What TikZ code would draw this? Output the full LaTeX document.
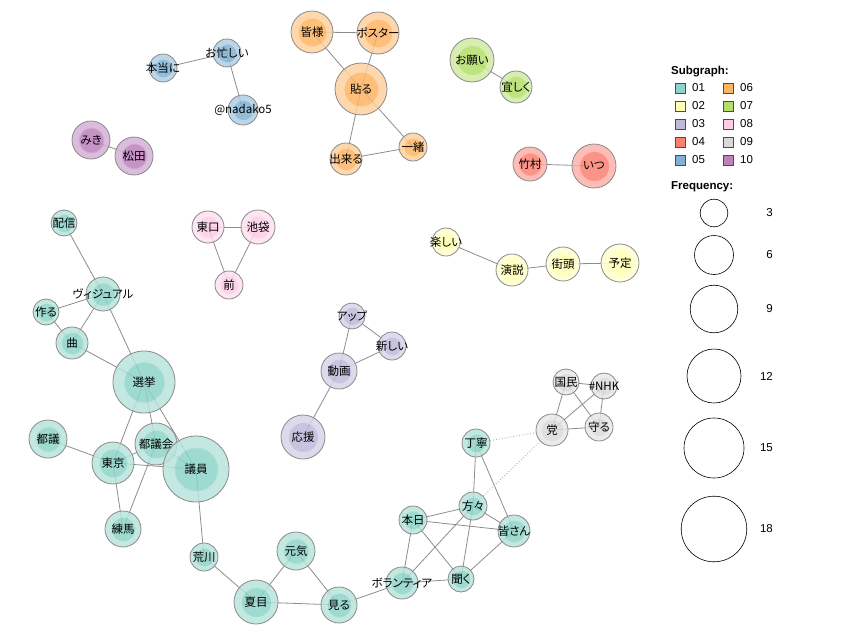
\documentclass[tikz,border=0pt]{standalone}
\usepackage{fontspec}
\setmainfont{Liberation Sans}
\newfontfamily\jpfont[RawFeature=+palt]{Noto Sans CJK JP}
\usetikzlibrary{backgrounds}

\definecolor{sg01}{HTML}{8DD3C7}
\definecolor{sg02}{HTML}{FFFFB3}
\definecolor{sg03}{HTML}{BEBADA}
\definecolor{sg04}{HTML}{FB8072}
\definecolor{sg05}{HTML}{80B1D3}
\definecolor{sg06}{HTML}{FDB462}
\definecolor{sg07}{HTML}{B3DE69}
\definecolor{sg08}{HTML}{FCCDE5}
\definecolor{sg09}{HTML}{D9D9D9}
\definecolor{sg10}{HTML}{BC80BD}
\definecolor{rimgray}{HTML}{8A8A8A}
\definecolor{linkgray}{HTML}{8C8C8C}

% two tone discs: core colour inside 0.65 of the radius
\pgfdeclareradialshading{disc01}{\pgfpoint{0bp}{0bp}}{color(0bp)=(sg01); color(16bp)=(sg01); color(16.5bp)=(sg01!62!white); color(50bp)=(sg01!62!white)}
\pgfdeclareradialshading{disc02}{\pgfpoint{0bp}{0bp}}{color(0bp)=(sg02); color(16bp)=(sg02); color(16.5bp)=(sg02!62!white); color(50bp)=(sg02!62!white)}
\pgfdeclareradialshading{disc03}{\pgfpoint{0bp}{0bp}}{color(0bp)=(sg03); color(16bp)=(sg03); color(16.5bp)=(sg03!62!white); color(50bp)=(sg03!62!white)}
\pgfdeclareradialshading{disc04}{\pgfpoint{0bp}{0bp}}{color(0bp)=(sg04); color(16bp)=(sg04); color(16.5bp)=(sg04!62!white); color(50bp)=(sg04!62!white)}
\pgfdeclareradialshading{disc05}{\pgfpoint{0bp}{0bp}}{color(0bp)=(sg05); color(16bp)=(sg05); color(16.5bp)=(sg05!62!white); color(50bp)=(sg05!62!white)}
\pgfdeclareradialshading{disc06}{\pgfpoint{0bp}{0bp}}{color(0bp)=(sg06); color(16bp)=(sg06); color(16.5bp)=(sg06!62!white); color(50bp)=(sg06!62!white)}
\pgfdeclareradialshading{disc07}{\pgfpoint{0bp}{0bp}}{color(0bp)=(sg07); color(16bp)=(sg07); color(16.5bp)=(sg07!62!white); color(50bp)=(sg07!62!white)}
\pgfdeclareradialshading{disc08}{\pgfpoint{0bp}{0bp}}{color(0bp)=(sg08); color(16bp)=(sg08); color(16.5bp)=(sg08!62!white); color(50bp)=(sg08!62!white)}
\pgfdeclareradialshading{disc09}{\pgfpoint{0bp}{0bp}}{color(0bp)=(sg09); color(16bp)=(sg09); color(16.5bp)=(sg09!62!white); color(50bp)=(sg09!62!white)}
\pgfdeclareradialshading{disc10}{\pgfpoint{0bp}{0bp}}{color(0bp)=(sg10); color(16bp)=(sg10); color(16.5bp)=(sg10!62!white); color(50bp)=(sg10!62!white)}

% label that does not widen its disc
\newcommand{\wlabel}[1]{\makebox[0pt]{#1}}

\tikzset{
  word/.style={circle, draw=rimgray, line width=0.8pt, inner sep=0pt,
    fill opacity=0.85, text opacity=1, font=\jpfont\fontsize{11.5}{11.5}\selectfont},
  sg/.style={shading=disc#1},
  rad/.style={minimum size={2*#1pt}},
  link/.style={draw=linkgray, line width=0.8pt},
  weak/.style={draw=black!30, dotted, line width=0.9pt},
  swatch/.style={draw=black!70, line width=0.6pt, minimum size=10pt, inner sep=0pt},
  freq/.style={circle, draw=black, line width=0.6pt, inner sep=0pt, minimum size={2*#1pt}},
  legtext/.style={font=\fontsize{11.5}{11.5}\selectfont, inner sep=0pt},
  leghead/.style={font=\bfseries\fontsize{11.5}{11.5}\selectfont, inner sep=0pt, anchor=west}
}

\begin{document}
\begin{tikzpicture}[x=1pt, y=-1pt]
        \useasboundingbox (0,0) rectangle (853,640);
        % Subgraph 01
        \node[word, sg=01, rad=13] (haishin) at (64,223) {配信};
        \node[word, sg=01, rad=17] (visual) at (103,294) {\wlabel{ヴィジュアル}};
        \node[word, sg=01, rad=13] (tsukuru) at (46,312) {\wlabel{作る}};
        \node[word, sg=01, rad=16] (kyoku) at (72,343) {曲};
        \node[word, sg=01, rad=31] (senkyo) at (144,382) {選挙};
        \node[word, sg=01, rad=19] (togi) at (48,439) {都議};
        \node[word, sg=01, rad=21] (tokyo) at (113,463) {東京};
        \node[word, sg=01, rad=21] (togikai) at (156,444) {\wlabel{都議会}};
        \node[word, sg=01, rad=33] (giin) at (196,469) {議員};
        \node[word, sg=01, rad=18] (nerima) at (123,529) {練馬};
        \node[word, sg=01, rad=14] (arakawa) at (204,557) {\wlabel{荒川}};
        \node[word, sg=01, rad=19] (genki) at (296,551) {元気};
        \node[word, sg=01, rad=22] (natsume) at (256,602) {夏目};
        \node[word, sg=01, rad=18] (miru) at (339,605) {見る};
        \node[word, sg=01, rad=16] (volunteer) at (402,583) {\wlabel{ボランティア}};
        \node[word, sg=01, rad=14] (honjitsu) at (413,520) {\wlabel{本日}};
        \node[word, sg=01, rad=14] (katagata) at (473,506) {\wlabel{方々}};
        \node[word, sg=01, rad=16] (minasan) at (514,531) {\wlabel{皆さん}};
        \node[word, sg=01, rad=13] (kiku) at (461,579) {\wlabel{聞く}};
        \node[word, sg=01, rad=14] (teinei) at (476,443) {\wlabel{丁寧}};
        % Subgraph 02
        \node[word, sg=02, rad=14] (tanoshii) at (446,242) {\wlabel{楽しい}};
        \node[word, sg=02, rad=16] (enzetsu) at (512,270) {\wlabel{演説}};
        \node[word, sg=02, rad=17] (gaitou) at (563,264) {\wlabel{街頭}};
        \node[word, sg=02, rad=19] (yotei) at (620,263) {予定};
        % Subgraph 03
        \node[word, sg=03, rad=13] (appu) at (352,316) {\wlabel{アップ}};
        \node[word, sg=03, rad=14] (atarashii) at (392,346) {\wlabel{新しい}};
        \node[word, sg=03, rad=18] (douga) at (339,371) {動画};
        \node[word, sg=03, rad=22] (ouen) at (303,437) {応援};
        % Subgraph 04
        \node[word, sg=04, rad=17] (takemura) at (530,164) {\wlabel{竹村}};
        \node[word, sg=04, rad=22] (itsu) at (594,166) {いつ};
        % Subgraph 05
        \node[word, sg=05, rad=14] (hontouni) at (163,68) {\wlabel{本当に}};
        \node[word, sg=05, rad=14] (oisogashii) at (227,53) {\wlabel{お忙しい}};
        \node[word, sg=05, rad=15] (nadako) at (243,110) {\wlabel{@nadako5}};
        % Subgraph 06
        \node[word, sg=06, rad=21] (minasama) at (312,32) {皆様};
        \node[word, sg=06, rad=21] (poster) at (378,33) {\wlabel{ポスター}};
        \node[word, sg=06, rad=26] (haru) at (361,89) {貼る};
        \node[word, sg=06, rad=16] (dekiru) at (346,159) {\wlabel{出来る}};
        \node[word, sg=06, rad=14] (issho) at (413,147) {\wlabel{一緒}};
        % Subgraph 07
        \node[word, sg=07, rad=22] (onegai) at (472,60) {\wlabel{お願い}};
        \node[word, sg=07, rad=16] (yoroshiku) at (516,87) {\wlabel{宜しく}};
        % Subgraph 08
        \node[word, sg=08, rad=16] (higashiguchi) at (208,227) {\wlabel{東口}};
        \node[word, sg=08, rad=17] (ikebukuro) at (258,227) {池袋};
        \node[word, sg=08, rad=14] (mae) at (229,285) {前};
        % Subgraph 09
        \node[word, sg=09, rad=13] (kokumin) at (566,382) {\wlabel{国民}};
        \node[word, sg=09, rad=13] (nhk) at (604,386) {\wlabel{\#NHK}};
        \node[word, sg=09, rad=16] (tou) at (552,430) {党};
        \node[word, sg=09, rad=14] (mamoru) at (599,427) {\wlabel{守る}};
        % Subgraph 10
        \node[word, sg=10, rad=19] (miki) at (91,140) {みき};
        \node[word, sg=10, rad=19] (matsuda) at (134,156) {松田};

        % Links, behind the words
        \begin{pgfonlayer}{background}
        \draw[link] (haishin.center) -- (visual.center);
        \draw[link] (visual.center) -- (tsukuru.center);
        \draw[link] (visual.center) -- (kyoku.center);
        \draw[link] (visual.center) -- (senkyo.center);
        \draw[link] (tsukuru.center) -- (kyoku.center);
        \draw[link] (kyoku.center) -- (senkyo.center);
        \draw[link] (senkyo.center) -- (tokyo.center);
        \draw[link] (senkyo.center) -- (togikai.center);
        \draw[link] (senkyo.center) -- (giin.center);
        \draw[link] (togi.center) -- (tokyo.center);
        \draw[link] (tokyo.center) -- (togikai.center);
        \draw[link] (tokyo.center) -- (giin.center);
        \draw[link] (tokyo.center) -- (nerima.center);
        \draw[link] (togikai.center) -- (nerima.center);
        \draw[link] (togikai.center) -- (giin.center);
        \draw[link] (giin.center) -- (arakawa.center);
        \draw[link] (arakawa.center) -- (natsume.center);
        \draw[link] (natsume.center) -- (genki.center);
        \draw[link] (genki.center) -- (miru.center);
        \draw[link] (natsume.center) -- (miru.center);
        \draw[link] (miru.center) -- (volunteer.center);
        \draw[link] (volunteer.center) -- (honjitsu.center);
        \draw[link] (volunteer.center) -- (katagata.center);
        \draw[link] (volunteer.center) -- (kiku.center);
        \draw[link] (honjitsu.center) -- (katagata.center);
        \draw[link] (honjitsu.center) -- (minasan.center);
        \draw[link] (honjitsu.center) -- (kiku.center);
        \draw[link] (katagata.center) -- (minasan.center);
        \draw[link] (katagata.center) -- (kiku.center);
        \draw[link] (teinei.center) -- (katagata.center);
        \draw[link] (teinei.center) -- (minasan.center);
        \draw[link] (minasan.center) -- (kiku.center);
        \draw[weak] (teinei.center) -- (tou.center);
        \draw[weak] (katagata.center) -- (tou.center);
        \draw[link] (tanoshii.center) -- (enzetsu.center);
        \draw[link] (enzetsu.center) -- (gaitou.center);
        \draw[link] (gaitou.center) -- (yotei.center);
        \draw[link] (appu.center) -- (atarashii.center);
        \draw[link] (appu.center) -- (douga.center);
        \draw[link] (atarashii.center) -- (douga.center);
        \draw[link] (douga.center) -- (ouen.center);
        \draw[link] (takemura.center) -- (itsu.center);
        \draw[link] (hontouni.center) -- (oisogashii.center);
        \draw[link] (oisogashii.center) -- (nadako.center);
        \draw[link] (minasama.center) -- (poster.center);
        \draw[link] (minasama.center) -- (haru.center);
        \draw[link] (poster.center) -- (haru.center);
        \draw[link] (haru.center) -- (dekiru.center);
        \draw[link] (haru.center) -- (issho.center);
        \draw[link] (dekiru.center) -- (issho.center);
        \draw[link] (onegai.center) -- (yoroshiku.center);
        \draw[link] (higashiguchi.center) -- (ikebukuro.center);
        \draw[link] (higashiguchi.center) -- (mae.center);
        \draw[link] (ikebukuro.center) -- (mae.center);
        \draw[link] (kokumin.center) -- (nhk.center);
        \draw[link] (kokumin.center) -- (tou.center);
        \draw[link] (kokumin.center) -- (mamoru.center);
        \draw[link] (nhk.center) -- (tou.center);
        \draw[link] (nhk.center) -- (mamoru.center);
        \draw[link] (tou.center) -- (mamoru.center);
        \draw[link] (miki.center) -- (matsuda.center);
        \end{pgfonlayer}

        % Legend: subgraphs
        \node[leghead] (subhead) at (671,72) {Subgraph:};
        \node[swatch, fill=sg01] (sw01) at (680,88) {};
        \node[swatch, fill=sg02] (sw02) at (680,106) {};
        \node[swatch, fill=sg03] (sw03) at (680,124) {};
        \node[swatch, fill=sg04] (sw04) at (680,142) {};
        \node[swatch, fill=sg05] (sw05) at (680,160) {};
        \node[swatch, fill=sg06] (sw06) at (728,88) {};
        \node[swatch, fill=sg07] (sw07) at (728,106) {};
        \node[swatch, fill=sg08] (sw08) at (728,124) {};
        \node[swatch, fill=sg09] (sw09) at (728,142) {};
        \node[swatch, fill=sg10] (sw10) at (728,160) {};
        \node[legtext, anchor=west] (lb01) at (692,88) {01};
        \node[legtext, anchor=west] (lb02) at (692,106) {02};
        \node[legtext, anchor=west] (lb03) at (692,124) {03};
        \node[legtext, anchor=west] (lb04) at (692,142) {04};
        \node[legtext, anchor=west] (lb05) at (692,160) {05};
        \node[legtext, anchor=west] (lb06) at (740,88) {06};
        \node[legtext, anchor=west] (lb07) at (740,106) {07};
        \node[legtext, anchor=west] (lb08) at (740,124) {08};
        \node[legtext, anchor=west] (lb09) at (740,142) {09};
        \node[legtext, anchor=west] (lb10) at (740,160) {10};
        % Legend: frequency
        \node[leghead] (freqhead) at (671,187) {Frequency:};
        \node[freq=13.8] (f3) at (714,213) {};
        \node[freq=19.5] (f6) at (714,255) {};
        \node[freq=23.8] (f9) at (714,309) {};
        \node[freq=27] (f12) at (714,376) {};
        \node[freq=30] (f15) at (714,448) {};
        \node[freq=32.8] (f18) at (714,529) {};
        \node[legtext, anchor=east] (lf3) at (773,213) {3};
        \node[legtext, anchor=east] (lf6) at (773,255) {6};
        \node[legtext, anchor=east] (lf9) at (773,309) {9};
        \node[legtext, anchor=east] (lf12) at (773,376) {12};
        \node[legtext, anchor=east] (lf15) at (773,448) {15};
        \node[legtext, anchor=east] (lf18) at (773,529) {18};
    \end{tikzpicture}
\end{document}
